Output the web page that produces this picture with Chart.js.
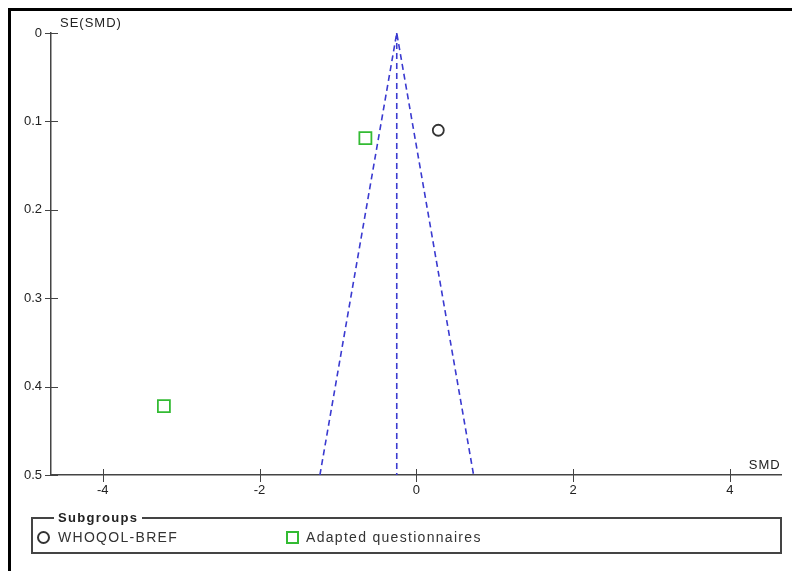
<!DOCTYPE html>
<html>
<head>
<meta charset="utf-8">
<script src="https://cdn.jsdelivr.net/npm/chart.js@4.4.1/dist/chart.umd.min.js"></script>
<style>
  html, body { margin: 0; padding: 0; background: #fff; }
  body { width: 792px; height: 571px; position: relative; overflow: hidden; font-family: "Liberation Sans", Arial, sans-serif; }
  #frame { position: absolute; left: 8px; top: 8px; width: 800px; height: 600px; border-top: 3px solid #000; border-left: 3px solid #000; }
  #wrap { position: absolute; left: 0; top: 0; width: 792px; height: 571px; }
  fieldset { position: absolute; left: 31px; top: 510px; width: 751px; height: 44px; margin: 0; padding: 0; border: 2px solid #444; box-sizing: border-box; }
  legend { font-weight: bold; font-size: 13px; letter-spacing: 1.3px; color: #222; padding: 0 4px; margin-left: 21px; }
  .item { position: absolute; top: 4px; font-size: 14px; letter-spacing: 1.3px; color: #333; display: flex; align-items: center; }
  .circ { width: 13px; height: 13px; border: 2px solid #333; border-radius: 50%; box-sizing: border-box; margin-right: 8px; }
  .sq { width: 13px; height: 13px; border: 2px solid #33bb33; box-sizing: border-box; margin-right: 7px; }
</style>
</head>
<body>
<div id="frame"></div>
<div id="wrap"><canvas id="chart" width="792" height="571"></canvas></div>
<fieldset>
  <legend>Subgroups</legend>
  <div class="item" style="left:4px"><span class="circ"></span>WHOQOL-BREF</div>
  <div class="item" style="left:253px"><span class="sq"></span>Adapted questionnaires</div>
</fieldset>
<script>
// ---- data ----
const xTicks = [-4, -2, 0, 2, 4];
const yTicks = [0, 0.1, 0.2, 0.3, 0.4, 0.5];

const whoqolSMD = [0.28];
const whoqolSE = [0.11];

const adaptedSMD = [-0.65, -3.22];
const adaptedSE = [0.119, 0.422];

// funnel: pooled estimate and 95% limits at SE = 0.5
const funnelX = [-1.23, -0.25, 0.73];
const funnelY = [0.5, 0, 0.5];
const pooledX = [-0.25, -0.25];
const pooledY = [0, 0.5];

const FUNNEL_COLOR = "#3a3ad0";
const FONT = "'Liberation Sans', Arial, sans-serif";

function pts(xs, ys) {
  return xs.map((x, i) => ({ x: x, y: ys[i] }));
}

// crossing tick marks + axis captions
const axisExtras = {
  id: "axisExtras",
  afterDraw(chart) {
    const ctx = chart.ctx;
    const xs = chart.scales.x, ys = chart.scales.y;
    const area = chart.chartArea;
    ctx.save();
    ctx.strokeStyle = "#444";
    ctx.lineWidth = 1;
    xTicks.forEach(v => {
      const px = Math.round(xs.getPixelForValue(v)) + 0.5;
      ctx.beginPath();
      ctx.moveTo(px, area.bottom - 6);
      ctx.lineTo(px, area.bottom + 7);
      ctx.stroke();
    });
    yTicks.forEach(v => {
      const py = Math.round(ys.getPixelForValue(v)) + 0.5;
      ctx.beginPath();
      ctx.moveTo(area.left - 6, py);
      ctx.lineTo(area.left + 7, py);
      ctx.stroke();
    });
    ctx.fillStyle = "#222";
    ctx.font = "13px " + FONT;
    ctx.letterSpacing = "1px";
    ctx.textBaseline = "alphabetic";
    ctx.textAlign = "left";
    ctx.fillText("SE(SMD)", area.left + 9, area.top - 6);
    ctx.textAlign = "right";
    ctx.fillText("SMD", area.right - 1, area.bottom - 6);
    ctx.restore();
  }
};

new Chart(document.getElementById("chart"), {
  type: "scatter",
  data: {
    datasets: [
      {
        label: "funnel",
        type: "line",
        data: pts(funnelX, funnelY),
        borderColor: FUNNEL_COLOR,
        borderWidth: 1.6,
        borderDash: [6, 4],
        pointRadius: 0,
        fill: false,
        tension: 0
      },
      {
        label: "pooled",
        type: "line",
        data: pts(pooledX, pooledY),
        borderColor: FUNNEL_COLOR,
        borderWidth: 1.6,
        borderDash: [6, 4],
        pointRadius: 0,
        fill: false
      },
      {
        label: "WHOQOL-BREF",
        data: pts(whoqolSMD, whoqolSE),
        pointStyle: "circle",
        pointRadius: 5.5,
        borderColor: "#333",
        borderWidth: 1.8,
        backgroundColor: "rgba(0,0,0,0)"
      },
      {
        label: "Adapted questionnaires",
        data: pts(adaptedSMD, adaptedSE),
        pointStyle: "rect",
        pointRadius: 8.5,
        borderColor: "#33bb33",
        borderWidth: 1.8,
        backgroundColor: "rgba(0,0,0,0)"
      }
    ]
  },
  options: {
    responsive: false,
    animation: false,
    layout: { padding: { left: 0, top: 33, right: 9, bottom: 0 } },
    plugins: { legend: { display: false }, tooltip: { enabled: false } },
    scales: {
      x: {
        type: "linear",
        min: -4.66,
        max: 4.66,
        afterBuildTicks: s => { s.ticks = xTicks.map(v => ({ value: v })); },
        afterFit: s => { s.height = 96; },
        grid: { display: false, drawTicks: false },
        border: { display: true, color: "#444", width: 1.5 },
        ticks: {
          padding: 8,
          color: "#222",
          font: { family: FONT, size: 13 },
          maxRotation: 0
        }
      },
      y: {
        type: "linear",
        reverse: true,
        min: 0,
        max: 0.5,
        afterBuildTicks: s => { s.ticks = yTicks.map(v => ({ value: v })); },
        afterFit: s => { s.width = 51; },
        grid: { display: false, drawTicks: false },
        border: { display: true, color: "#444", width: 1.5 },
        ticks: {
          padding: 9,
          color: "#222",
          font: { family: FONT, size: 13 },
          callback: v => String(v)
        }
      }
    }
  },
  plugins: [axisExtras]
});
</script>
</body>
</html>
